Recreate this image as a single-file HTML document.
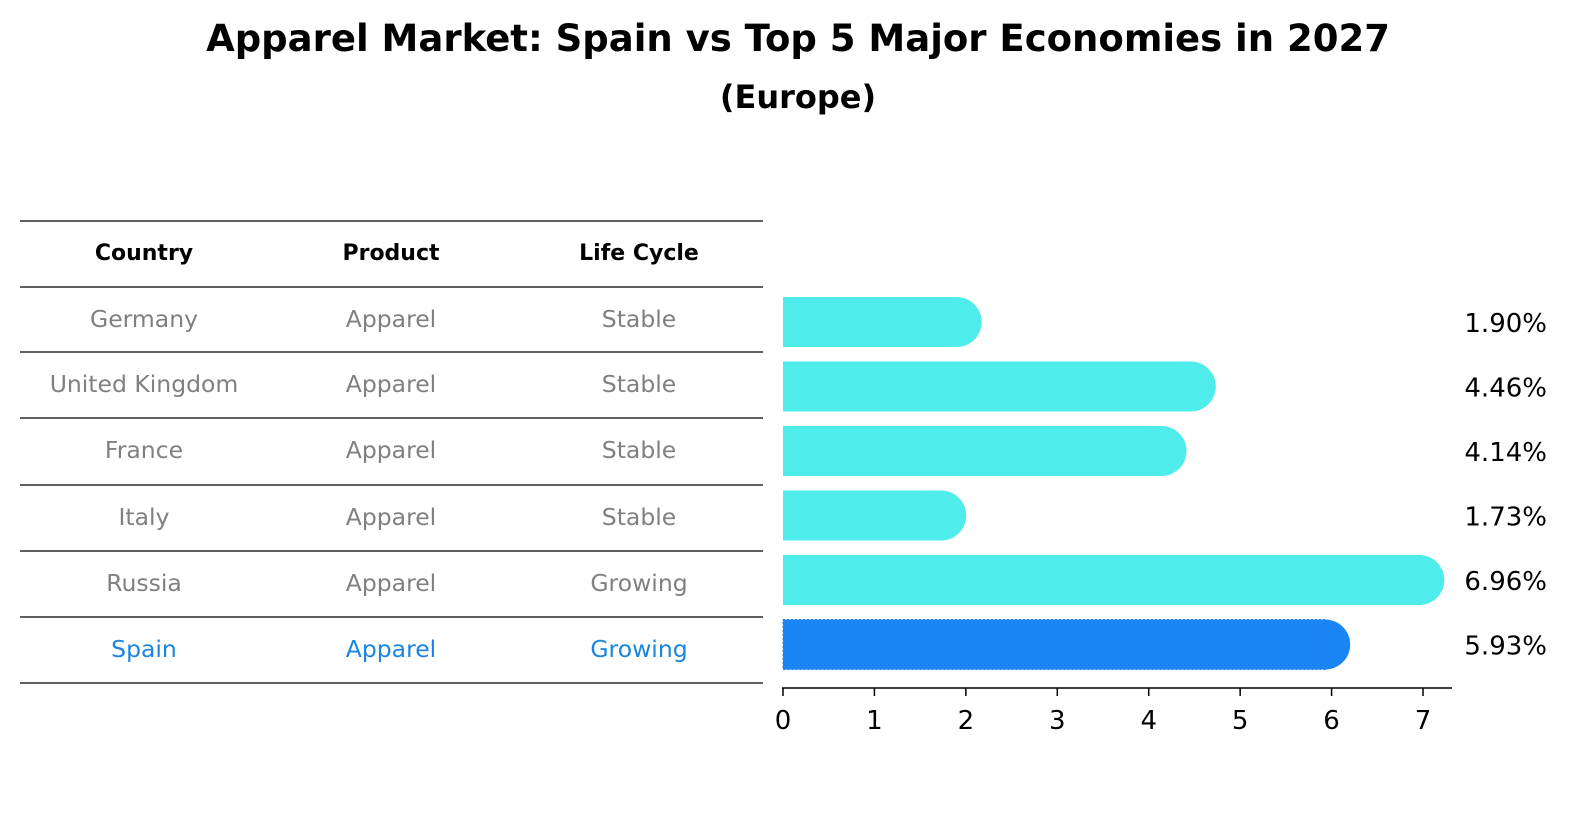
<!DOCTYPE html>
<html><head><meta charset="utf-8"><style>
html,body{margin:0;padding:0;overflow:hidden;background:#fff;font-family:"Liberation Sans","DejaVu Sans",sans-serif;}
svg{display:block;}
svg text{font-family:"DejaVu Sans","Liberation Sans",sans-serif;}
</style></head><body>
<svg id="c" width="1586" height="823" xmlns="http://www.w3.org/2000/svg">
<rect width="1586" height="823" fill="#fff"/>
<text x="798" y="51" text-anchor="middle" font-size="37" font-weight="bold">Apparel Market: Spain vs Top 5 Major Economies in 2027</text>
<text x="798" y="108" text-anchor="middle" font-size="32" font-weight="bold">(Europe)</text>
<g id="tbl"></g>
<g id="bars"></g>
</svg>
<script>
const countries=["Germany","United Kingdom","France","Italy","Russia","Spain"];
const products=["Apparel","Apparel","Apparel","Apparel","Apparel","Apparel"];
const lifecycle=["Stable","Stable","Stable","Stable","Growing","Growing"];
const values=[1.90,4.46,4.14,1.73,6.96,5.93];
const ticks=[0,1,2,3,4,5,6,7];
const NS="http://www.w3.org/2000/svg";
function mk(t,a,p){const e=document.createElementNS(NS,t);for(const k in a)e.setAttribute(k,a[k]);p.appendChild(e);return e;}
const tbl=document.getElementById('tbl'),bars=document.getElementById('bars');
const x=v=>783+v*91.43;
const rowY=i=>322+i*64.5;
const lineYs=[221,287,352,418,485,551,617,683];
lineYs.forEach(y=>{const l=mk('line',{x1:20,x2:763,y1:y,y2:y,stroke:'#000','stroke-width':1.2},tbl);

});
const cols=[144,391,639];
["Country","Product","Life Cycle"].forEach((h,j)=>{const t=mk('text',{x:cols[j],y:260,'text-anchor':'middle','font-size':22,'font-weight':'bold'},tbl);t.textContent=h;

});
countries.forEach((c,i)=>{
 const col=i===5?'#1a85e0':'#808080';
 [c,products[i],lifecycle[i]].forEach((s,j)=>{const t=mk('text',{x:cols[j],y:lineYs[i+1]+40,'text-anchor':'middle','font-size':23.5,fill:col},tbl);t.textContent=s;
 
 });
 const fill=i===5?'#1a85f5':'#4eecea';
 const g=mk('g',{},bars);
 
 
 mk('rect',{x:783,y:rowY(i)-25,width:x(values[i])-783,height:50,fill:fill},g);
 mk('circle',{cx:x(values[i]),cy:rowY(i),r:25,fill:fill},g);
 if(i===5)mk('rect',{x:783,y:rowY(i)-25,width:x(values[i])-783,height:50,fill:'none',stroke:'#3a7fd0','stroke-width':1,'stroke-dasharray':'2,2'},g);
 const t=mk('text',{x:1547,y:rowY(i)+10,'text-anchor':'end','font-size':26},bars);t.textContent=values[i].toFixed(2)+'%';
 
 
});
const ax=mk('line',{x1:782,x2:1452,y1:688,y2:688,stroke:'#000','stroke-width':1.5},bars);


ticks.forEach(v=>{mk('line',{x1:x(v),x2:x(v),y1:688,y2:696,stroke:'#000','stroke-width':1.5},bars);
 const t=mk('text',{x:x(v),y:729,'text-anchor':'middle','font-size':26},bars);t.textContent=v;
 
 });
</script>
</body></html>
